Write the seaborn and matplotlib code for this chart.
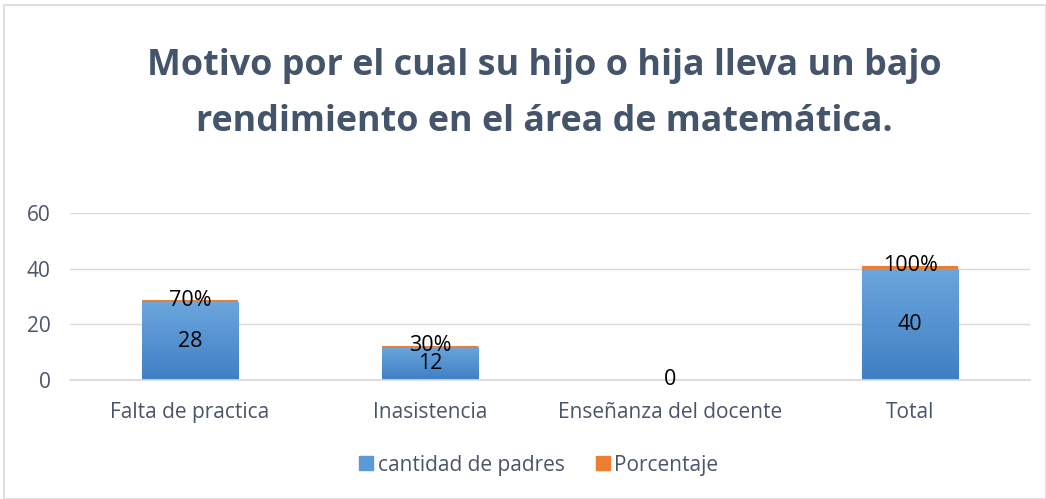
import numpy as np
import pandas as pd
import matplotlib
matplotlib.use("Agg")
import matplotlib.pyplot as plt
from matplotlib.patches import Rectangle
from matplotlib.colors import LinearSegmentedColormap
import seaborn as sns

categorias = ["Falta de practica", "Inasistencia", "Enseñanza del docente", "Total"]
cantidad_de_padres = [28, 12, 0, 40]
porcentaje = [0.7, 0.3, 0.0, 1.0]
etiquetas_porcentaje = ["70%", "30%", "", "100%"]
titulo = "Motivo por el cual su hijo o hija lleva un bajo\nrendimiento en el área de matemática."

sns.set_theme(style="white")
plt.rcParams["font.family"] = ["Open Sans", "DejaVu Sans"]

df = pd.DataFrame({"categoria": categorias,
                   "cantidad": cantidad_de_padres,
                   "porcentaje": porcentaje})
df["total"] = df["cantidad"] + df["porcentaje"]

fig = plt.figure(figsize=(10.46, 4.99), dpi=100)
ax = fig.add_axes([0.067, 0.2385, 0.918, 0.3345])

blue = "#5B9BD5"
orange = "#ED7D31"
text_col = "#4A5568"
sns.barplot(data=df, x="categoria", y="total", color=orange, width=0.4,
            saturation=1, ax=ax, order=categorias, linewidth=0)
sns.barplot(data=df, x="categoria", y="cantidad", color=blue, width=0.4,
            saturation=1, ax=ax, order=categorias, linewidth=0)

# gradient fill on blue bars
cmap = LinearSegmentedColormap.from_list("g", ["#3F7FC4", "#6BA6DC"])
n = len(categorias)
blue_patches = ax.patches[n:]
grad = np.linspace(0, 1, 256).reshape(-1, 1)
for p in blue_patches:
    x0, y0 = p.get_x(), p.get_y()
    w, h = p.get_width(), p.get_height()
    if h <= 0:
        continue
    im = ax.imshow(grad, cmap=cmap, origin="lower", aspect="auto",
                   extent=[x0, x0 + w, y0, y0 + h], zorder=p.get_zorder() + 0.1)
    im.set_clip_path(p)

ax.set_xlim(-0.5, n - 0.5)
ax.set_ylim(0, 60)
ax.set_yticks([0, 20, 40, 60])
ax.yaxis.grid(True, color="#D9D9D9", linewidth=1)
ax.set_axisbelow(True)
for s in ["top", "right", "left"]:
    ax.spines[s].set_visible(False)
ax.spines["bottom"].set_color("#D9D9D9")
ax.set_xlabel("")
ax.set_ylabel("")
ax.tick_params(axis="both", length=0, labelsize=15, colors=text_col)
ax.tick_params(axis="x", pad=16)
ax.tick_params(axis="y", pad=14)

for i, (c, pc, lab) in enumerate(zip(cantidad_de_padres, porcentaje, etiquetas_porcentaje)):
    ax.text(i, c / 2, str(c), ha="center", va="center", fontsize=15.5,
            color="#000000", zorder=10)
    if lab:
        ax.text(i, c + pc, lab, ha="center", va="center", fontsize=15.5,
                color="#000000", zorder=10)

fig.text(0.52, 0.812, titulo, ha="center", va="center", fontsize=25.8,
         fontweight="bold", color="#44546A", linespacing=1.72)

handles = [Rectangle((0, 0), 1, 1, color=blue), Rectangle((0, 0), 1, 1, color=orange)]
fig.legend(handles, ["cantidad de padres", "Porcentaje"], loc="center",
           bbox_to_anchor=(0.515, 0.068), ncol=2, frameon=False, fontsize=15,
           labelcolor=text_col, handlelength=0.67, handleheight=0.67,
           handletextpad=0.2, columnspacing=1.5)

fig.add_artist(Rectangle((0.004, 0.0), 0.996, 0.99, transform=fig.transFigure,
                         fill=False, edgecolor="#D9D9D9", linewidth=1.2))

fig.savefig("out.png", dpi=100)
